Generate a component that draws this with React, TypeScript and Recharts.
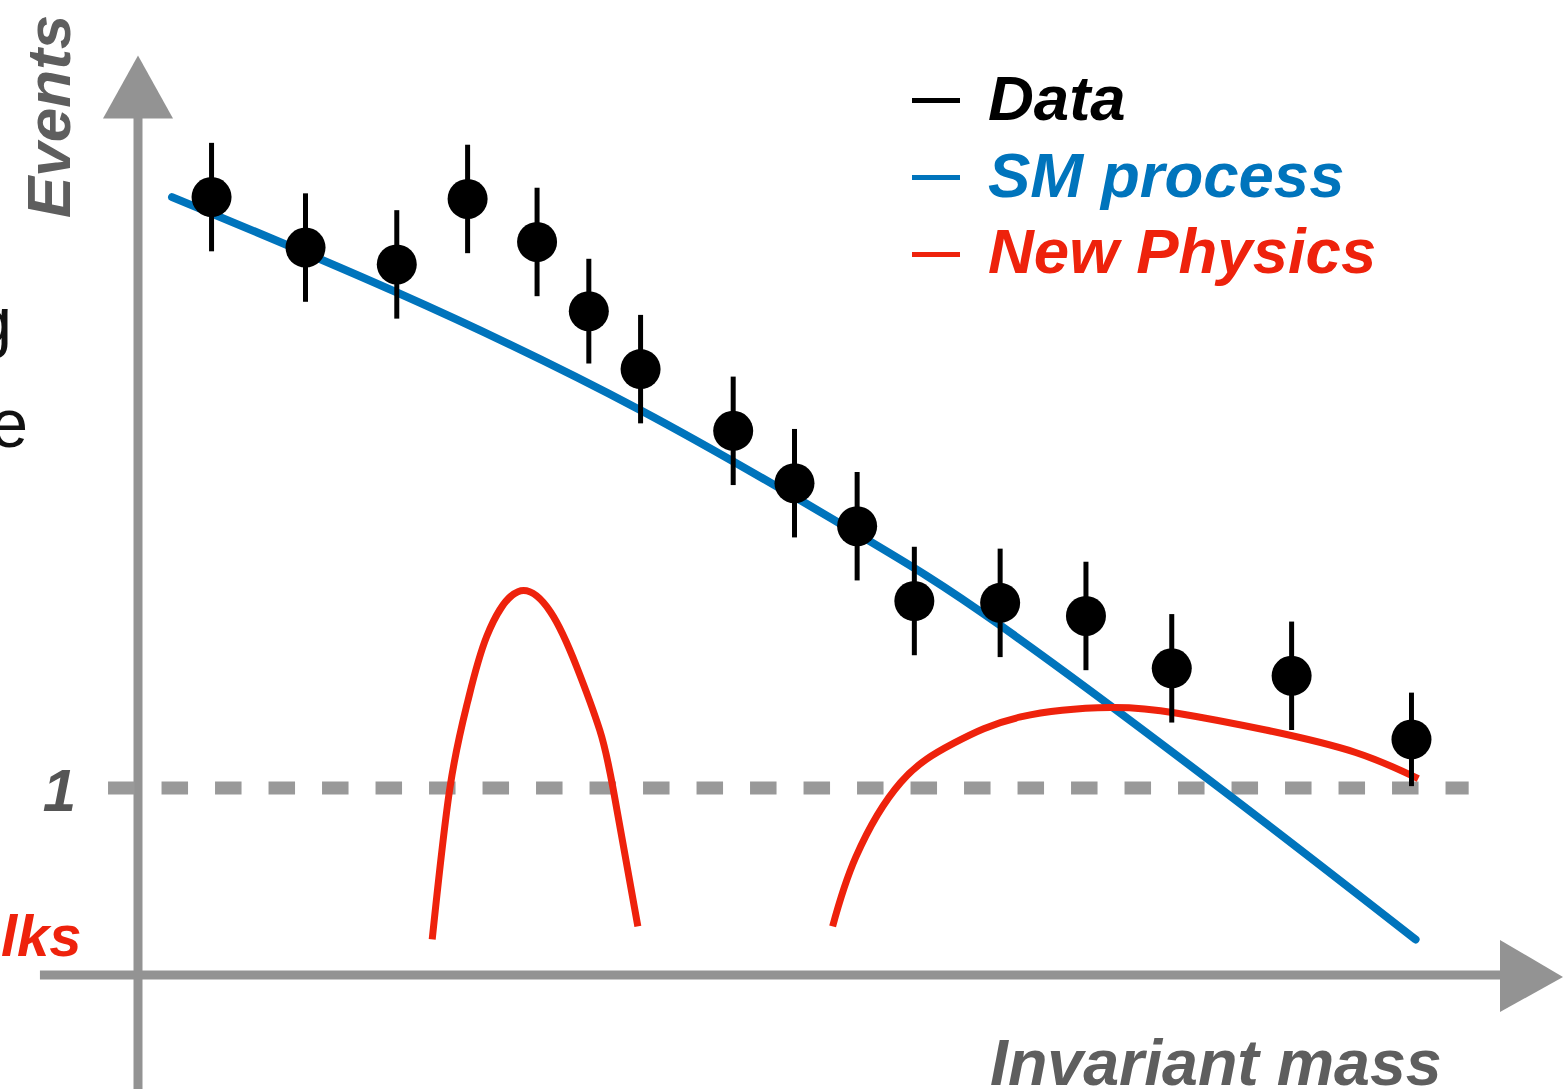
import {
  ComposedChart,
  Scatter,
  Line,
  XAxis,
  YAxis,
  ErrorBar,
  ReferenceLine,
  ReferenceDot,
} from "recharts"

// measured points with their uncertainties
const dataMass = [5.4, 12.3, 19.0, 24.2, 29.3, 33.1, 36.9, 43.7, 48.2, 52.8, 57.0, 63.3, 69.6, 75.9, 84.7, 93.5]
const dataEvents = [4.16, 3.89, 3.80, 4.15, 3.92, 3.55, 3.24, 2.91, 2.63, 2.40, 2.00, 1.99, 1.92, 1.64, 1.60, 1.26]
const dataErrors = [0.29, 0.29, 0.29, 0.29, 0.29, 0.28, 0.29, 0.29, 0.29, 0.29, 0.29, 0.29, 0.29, 0.29, 0.29, 0.25]

// standard model expectation
const smMass = [2.5, 19.0, 36.9, 52.8, 63.3, 79.6, 93.8]
const smEvents = [4.16, 3.65, 3.02, 2.36, 1.87, 0.99, 0.19]

// narrow resonance
const np1Mass = [21.6, 22.9, 24.2, 25.6, 27.9, 30.3, 32.2, 33.9, 34.9, 36.7]
const np1Events = [0.19, 1.0, 1.46, 1.81, 2.05, 1.94, 1.65, 1.31, 0.99, 0.26]

// broad excess
const np2Mass = [51.0, 52.7, 56.0, 59.9, 64.8, 71.4, 76.3, 82.8, 89.4, 94.0]
const np2Events = [0.26, 0.63, 1.03, 1.24, 1.38, 1.43, 1.4, 1.31, 1.19, 1.05]

const unitLevel = 1

const legendItems = [
  { label: "Data", color: "#000000" },
  { label: "SM process", color: "#0074bc" },
  { label: "New Physics", color: "#ee220c" },
]

const W = 1564
const H = 1089
const FONT = "'Liberation Sans', Arial, sans-serif"
const AXIS_GRAY = "#939393"
const BLUE = "#0074bc"
const RED = "#ee220c"

const zip = (xs: number[], ys: number[]) => xs.map((x, i) => ({ x, y: ys[i] }))

const points = dataMass.map((x, i) => ({ x, y: dataEvents[i], err: dataErrors[i] }))
const smCurve = zip(smMass, smEvents)
const np1Curve = zip(np1Mass, np1Events)
const np2Curve = zip(np2Mass, np2Events)

const Dot = (p: any) => <circle cx={p.cx} cy={p.cy} r={20} fill="#000" />

const UpArrow = (p: any) => (
  <polygon
    points={`${p.cx - 35},${p.cy} ${p.cx + 35},${p.cy} ${p.cx},${p.cy - 63}`}
    fill={AXIS_GRAY}
  />
)

const RightArrow = (p: any) => (
  <polygon
    points={`${p.cx},${p.cy - 35} ${p.cx},${p.cy + 37} ${p.cx + 63},${p.cy + 2}`}
    fill={AXIS_GRAY}
  />
)

export default function App() {
  return (
    <div style={{ position: "absolute", left: 0, top: 0, width: W, height: H, background: "#fff" }}>
      <ComposedChart
        width={W}
        height={H}
        margin={{ top: 40, right: 64, bottom: 114, left: 138 }}
      >
        <XAxis type="number" dataKey="x" domain={[0, 100]} hide allowDataOverflow />
        <YAxis type="number" dataKey="y" domain={[0, 5]} hide allowDataOverflow />

        {/* axes drawn as arrows */}
        <ReferenceLine
          segment={[{ x: 0, y: -0.62 }, { x: 0, y: 4.6 }]}
          stroke={AXIS_GRAY}
          strokeWidth={9}
          ifOverflow="visible"
        />
        <ReferenceLine
          segment={[{ x: -7.2, y: 0 }, { x: 100.2, y: 0 }]}
          stroke={AXIS_GRAY}
          strokeWidth={9}
          ifOverflow="visible"
        />
        <ReferenceDot x={0} y={4.58} r={0} shape={UpArrow} ifOverflow="visible" />
        <ReferenceDot x={100} y={0} r={0} shape={RightArrow} ifOverflow="visible" />

        <ReferenceLine
          segment={[{ x: -2.2, y: unitLevel }, { x: 97.7, y: unitLevel }]}
          stroke="#999999"
          strokeWidth={13}
          strokeDasharray="26.5 27"
          ifOverflow="visible"
        />

        <Line
          data={smCurve}
          dataKey="y"
          type="natural"
          stroke={BLUE}
          strokeWidth={8}
          strokeLinecap="round"
          dot={false}
          activeDot={false}
          isAnimationActive={false}
        />
        <Line
          data={np1Curve}
          dataKey="y"
          type="natural"
          stroke={RED}
          strokeWidth={7}
          dot={false}
          activeDot={false}
          isAnimationActive={false}
        />
        <Line
          data={np2Curve}
          dataKey="y"
          type="natural"
          stroke={RED}
          strokeWidth={7}
          dot={false}
          activeDot={false}
          isAnimationActive={false}
        />

        <Scatter data={points} dataKey="y" shape={Dot} isAnimationActive={false}>
          <ErrorBar dataKey="err" direction="y" width={0} stroke="#000" strokeWidth={5} isAnimationActive={false} />
        </Scatter>
      </ComposedChart>

      <svg
        width={W}
        height={H}
        style={{ position: "absolute", left: 0, top: 0, pointerEvents: "none" }}
        fontFamily={FONT}
      >
        <text x={12} y={345} fontSize={68} fill="#111" textAnchor="end">g</text>
        <text x={28} y={447} fontSize={68} fill="#111" textAnchor="end">e</text>

        <text
          transform="translate(70,218) rotate(-90)"
          fontSize={62}
          fontWeight="bold"
          fontStyle="italic"
          fill="#5e5e5e"
        >
          Events
        </text>
        <text x={76} y={811} fontSize={60} fontWeight="bold" fontStyle="italic" fill="#555" textAnchor="end">
          1
        </text>
        <text x={1} y={956} fontSize={58} fontWeight="bold" fontStyle="italic" fill={RED}>
          lks
        </text>
        <text x={990} y={1085} fontSize={64.5} fontWeight="bold" fontStyle="italic" fill="#5e5e5e">
          Invariant mass
        </text>

        {legendItems.map((item, i) => (
          <g key={item.label}>
            <rect x={912} y={98 + i * 77} width={48} height={5} fill={item.color} />
            <text
              x={988}
              y={120 + i * 76.5}
              fontSize={63.5}
              fontWeight="bold"
              fontStyle="italic"
              fill={item.color}
            >
              {item.label}
            </text>
          </g>
        ))}
      </svg>
    </div>
  )
}
